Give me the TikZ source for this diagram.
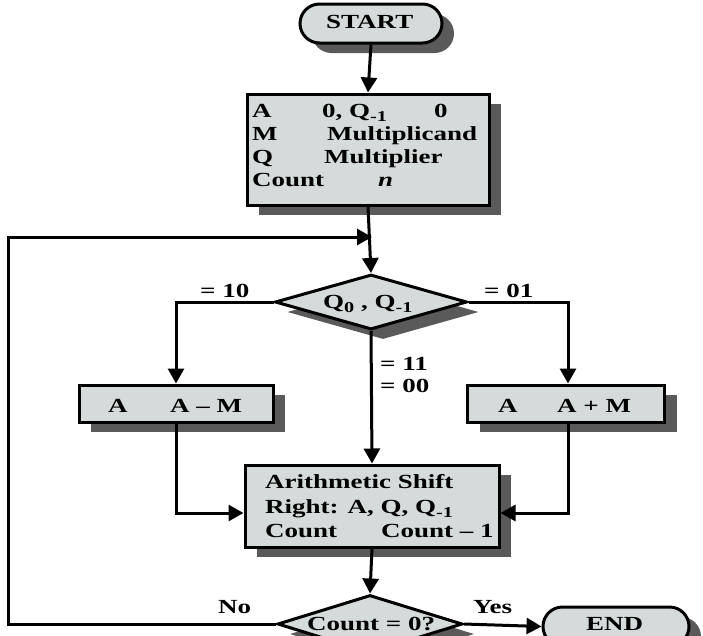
\documentclass[tikz,border=0pt]{standalone}
\usepackage{fontspec}
\setmainfont{Liberation Serif}
\usetikzlibrary{shapes.geometric,shapes.misc,shadows,arrows.meta}

\definecolor{boxfill}{HTML}{D5DBDB}
\definecolor{shadegray}{HTML}{5A5A5A}

% wide bold lettering used throughout the chart
\newcommand{\wtxt}[1]{\scalebox{1.35}[1]{#1}}
\newcommand{\subq}[1]{\raisebox{-4pt}{\fontsize{15}{15}\selectfont #1}}

\tikzset{
  shaded/.style={draw=black, line width=3pt, fill=boxfill,
    drop shadow={shadow xshift=12pt, shadow yshift=-10pt, fill=shadegray, opacity=1}},
  procbox/.style={shaded, rectangle, inner sep=0pt},
  termbox/.style={shaded, rounded rectangle, inner sep=0pt},
  decbox/.style={shaded, diamond, inner sep=0pt},
  lbl/.style={anchor=base west, inner sep=0pt, font=\fontsize{20}{24}\selectfont\bfseries},
  flow/.style={draw=black, line width=3pt,
    -{Triangle[length=15pt,width=16pt]}},
}

\begin{document}
\begin{tikzpicture}[x=1pt, y=-1pt]
  \clip (0,0) rectangle (703,635);
  \fill[white] (0,0) rectangle (703,635);

  % shapes
  \node[termbox, minimum width=142pt, minimum height=39pt] (start) at (371,23.5) {};
  \node[procbox, minimum width=242pt, minimum height=111pt] (init) at (368,149.5) {};
  \node[decbox, minimum width=192pt, minimum height=55pt] (q) at (371,302) {};
  \node[procbox, minimum width=194pt, minimum height=37pt] (amin) at (176,403.5) {};
  \node[procbox, minimum width=197pt, minimum height=37pt] (aplus) at (566,403.5) {};
  \node[procbox, minimum width=254pt, minimum height=82pt] (shift) at (372,506) {};
  \node[decbox, minimum width=185pt, minimum height=58pt] (cnt) at (370,624) {};
  \node[termbox, minimum width=146pt, minimum height=39pt] (end) at (616,626.5) {};

  % lettering
  \node[lbl] (tstart) at (326,28) {\wtxt{START}};
  \node[lbl] (ia1) at (252,117) {\wtxt{A}};
  \node[lbl] (ia2) at (322,117) {\wtxt{0, Q\subq{-1}}};
  \node[lbl] (ia3) at (434,117) {\wtxt{0}};
  \node[lbl] (im1) at (252,140) {\wtxt{M}};
  \node[lbl] (im2) at (327,140) {\wtxt{Multiplicand}};
  \node[lbl] (iq1) at (252,163) {\wtxt{Q}};
  \node[lbl] (iq2) at (324,163) {\wtxt{Multiplier}};
  \node[lbl] (ic1) at (252,186) {\wtxt{Count}};
  \node[lbl] (ic2) at (378,186) {\wtxt{\itshape n}};

  \node[lbl] (tq) at (323,308) {\wtxt{Q\subq{0} , Q\subq{-1}}};
  \node[lbl] (t10) at (200,297) {\wtxt{= 10}};
  \node[lbl] (t01) at (484,297) {\wtxt{= 01}};
  \node[lbl] (t11) at (380,370) {\wtxt{= 11}};
  \node[lbl] (t00) at (380,392) {\wtxt{= 00}};

  \node[lbl] (am1) at (108,412) {\wtxt{A}};
  \node[lbl] (am2) at (170,412) {\wtxt{A -- M}};
  \node[lbl] (ap1) at (498,412) {\wtxt{A}};
  \node[lbl] (ap2) at (557,412) {\wtxt{A + M}};

  \node[lbl] (s1) at (265,488) {\wtxt{Arithmetic Shift}};
  \node[lbl] (s2) at (265,513) {\wtxt{Right: A, Q, Q\subq{-1}}};
  \node[lbl] (s3) at (265,537) {\wtxt{Count}};
  \node[lbl] (s4) at (381,537) {\wtxt{Count -- 1}};

  \node[lbl] (tc) at (307,630) {\wtxt{Count = 0?}};
  \node[lbl] (tno) at (218,613) {\wtxt{No}};
  \node[lbl] (tyes) at (473,613) {\wtxt{Yes}};
  \node[lbl] (tend) at (586,630) {\wtxt{END}};

  % connectors
  \coordinate (loopin) at (372,237);
  \coordinate (loopcorner) at (8,624);
  \draw[flow] (start.south) -- (init.north);
  \draw[flow] (init.south) -- (q.north);
  \draw[flow] (cnt.west) -- (loopcorner) |- (loopin);
  \draw[flow] (q.west) -| (amin.north);
  \draw[flow] (q.east) -| ([xshift=2pt]aplus.north);
  \draw[flow] (q.south) -- (shift.north);
  \draw[flow] (amin.south) |- ([yshift=-7pt]shift.west);
  \draw[flow] ([xshift=2pt]aplus.south) |- ([yshift=-7pt]shift.east);
  \draw[flow] (shift.south) -- (cnt.north);
  \draw[flow] (cnt.east) -- (end.west);
\end{tikzpicture}
\end{document}
